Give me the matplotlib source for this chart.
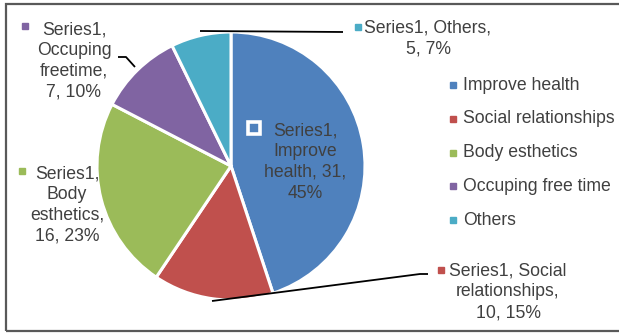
import matplotlib
matplotlib.use("Agg")
import matplotlib.pyplot as plt
from matplotlib.patches import Rectangle

plt.rcParams['font.family'] = ['Liberation Sans', 'DejaVu Sans']

# Data
categories = ["Improve health", "Social relationships", "Body esthetics",
              "Occuping free time", "Others"]
label_names = ["Improve\nhealth", "Social\nrelationships", "Body\nesthetics",
               "Occuping\nfreetime", "Others"]
values = [31, 10, 16, 7, 5]
percents = [45, 15, 23, 10, 7]
series_name = "Series1"
colors = ["#4F81BD", "#C0504D", "#9BBB59", "#8064A2", "#4BACC6"]
text_color = "#404040"

W, H = 619, 333
fig = plt.figure(figsize=(W / 100, H / 100), dpi=100)
ax = fig.add_axes([0, 0, 1, 1])

def P(x, y):
    """Pixel position (top-left origin) to axes data coords."""
    return x, H - y

cx, cy = P(231, 166)
wedges, _ = ax.pie(values, colors=colors, startangle=90, counterclock=False,
                   center=(cx, cy), radius=134,
                   wedgeprops=dict(edgecolor="white", linewidth=2.2))
ax.set_xlim(0, W)
ax.set_ylim(0, H)
ax.set_aspect("equal")
ax.axis("off")

# Chart border
ax.add_patch(Rectangle(P(6, 331), W, 327, fill=False, edgecolor="#595959",
                       linewidth=1.6, clip_on=False))

fs = 12.7
tkw = dict(fontsize=fs, color=text_color, ha="center", va="center",
           multialignment="center", linespacing=1.3)

# Data labels
txt = [
    (0, (305, 162), f"{series_name},\nImprove\nhealth, {values[0]},\n{percents[0]}%", (254, 128)),
    (1, (508, 292), f"{series_name}, Social\nrelationships,\n{values[1]}, {percents[1]}%", (441, 270)),
    (2, (67, 205), f"{series_name},\nBody\nesthetics,\n{values[2]}, {percents[2]}%", (22, 171)),
    (3, (74, 61), f"{series_name},\nOccuping\nfreetime,\n{values[3]}, {percents[3]}%", (25, 26)),
    (4, (428, 38.5), f"{series_name}, Others,\n{values[4]}, {percents[4]}%", (358, 27)),
]
for i, pos, s, mpos in txt:
    ax.text(*P(*pos), s, **tkw)
    if i == 0:
        ax.plot(*P(*mpos), marker="s", markersize=8.5, markerfacecolor=colors[i],
                markeredgecolor="white", markeredgewidth=2.6, linestyle="none")
    else:
        ax.plot(*P(*mpos), marker="s", markersize=4, color=colors[i],
                linestyle="none")

# Leader lines
leaders = [
    [(200, 31), (343, 32)],
    [(118, 57), (126, 57), (135, 67)],
    [(212, 301), (420, 274), (428, 274)],
]
for pts in leaders:
    xs = [P(*p)[0] for p in pts]
    ys = [P(*p)[1] for p in pts]
    ax.plot(xs, ys, color="black", linewidth=1.3, solid_capstyle="butt")

# Legend
for k, (name, c) in enumerate(zip(categories, colors)):
    y = 85 + k * 33.8
    ax.plot(*P(453, y), marker="s", markersize=4, color=c, linestyle="none")
    ax.text(*P(463, y), name, fontsize=fs, color=text_color, ha="left", va="center")

fig.savefig("out.png", dpi=100)
